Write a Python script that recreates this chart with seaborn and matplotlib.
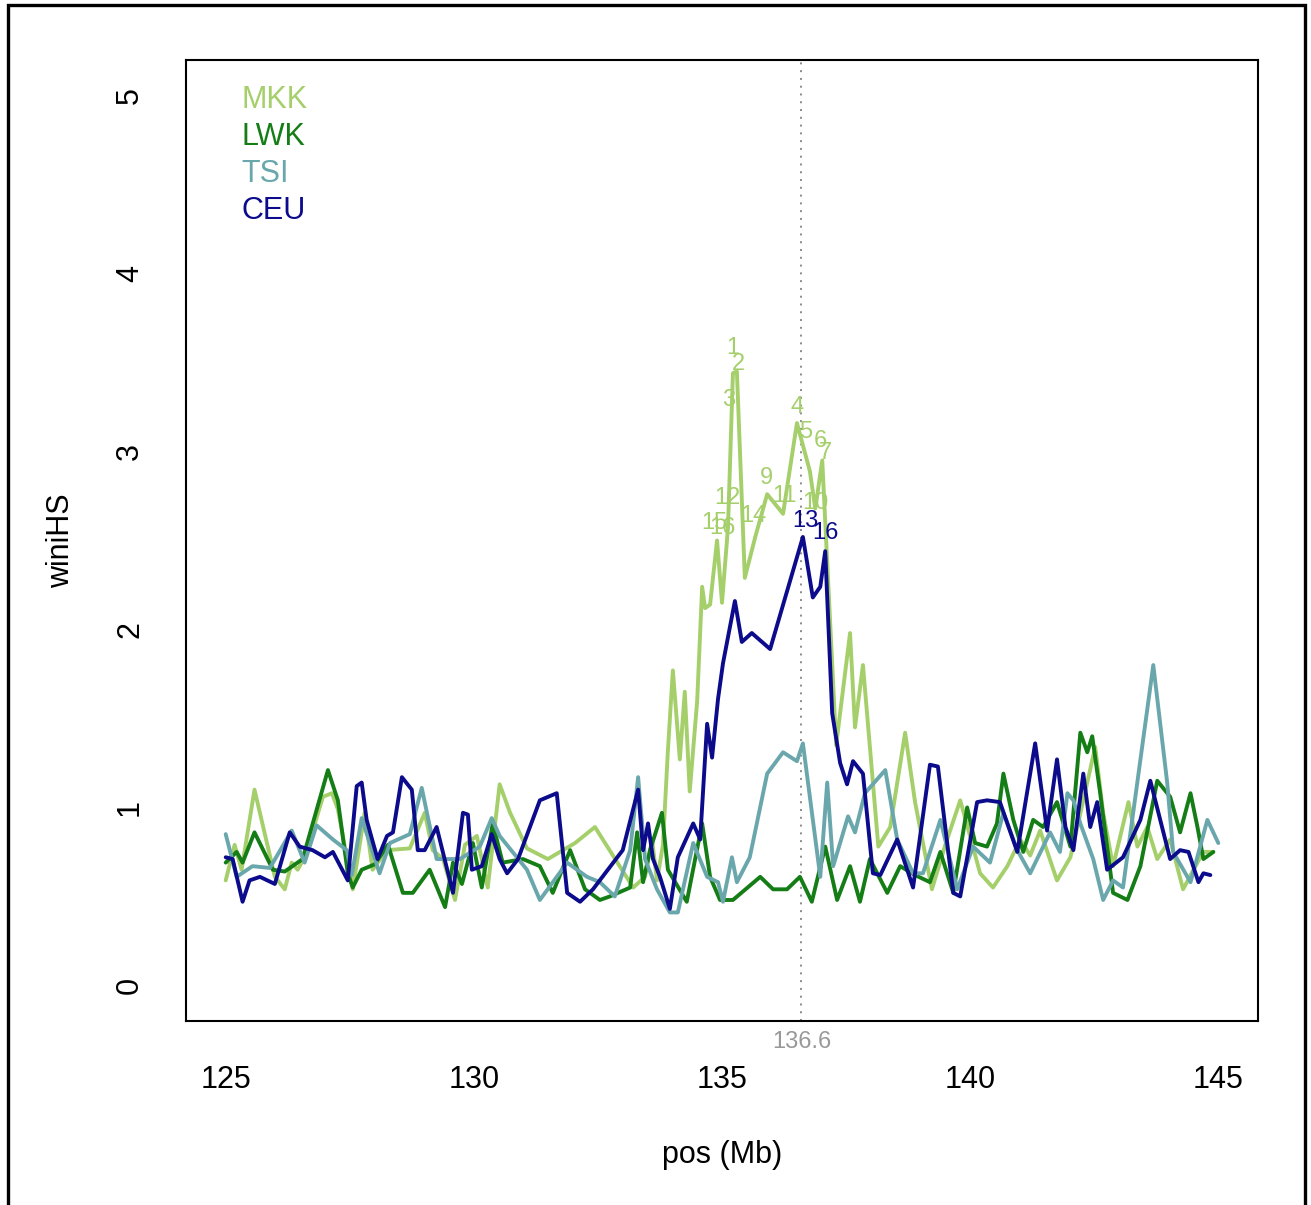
import numpy as np
import pandas as pd
import matplotlib
matplotlib.use("Agg")
import matplotlib.pyplot as plt
from matplotlib.patches import Rectangle
import seaborn as sns

# ── populations / colours ───────────────────────────────
pops = ["MKK", "LWK", "TSI", "CEU"]
pop_colors = {"MKK": "#a5cf6b", "LWK": "#157d15", "TSI": "#6aa7ac", "CEU": "#0b0b8c"}

# ── winiHS values per window (pos in Mb) ────────────────
mkk_pos = [125.00, 125.18, 125.32, 125.58, 125.99, 126.19, 126.33, 126.45, 126.59, 126.96,
           127.14, 127.26, 127.56, 127.80, 127.96, 128.25, 128.71, 129.01, 129.17, 129.38,
           129.62, 129.82, 130.06, 130.28, 130.52, 130.73, 131.07, 131.49, 132.04, 132.44,
           133.21, 133.45, 133.59, 133.69, 133.81, 133.91, 134.01, 134.15, 134.25, 134.35,
           134.50, 134.60, 134.66, 134.76, 134.90, 135.00, 135.12, 135.22, 135.30, 135.46,
           135.67, 135.91, 136.23, 136.51, 136.77, 136.88, 137.02, 137.30, 137.58, 137.68,
           137.84, 138.15, 138.39, 138.69, 138.89, 139.23, 139.50, 139.80, 139.94, 140.20,
           140.46, 140.75, 141.01, 141.21, 141.41, 141.75, 142.02, 142.28, 142.52, 142.68,
           142.88, 143.19, 143.37, 143.57, 143.77, 144.03, 144.29, 144.50, 144.70, 144.90]
mkk_hs = [0.59, 0.79, 0.65, 1.10, 0.61, 0.54, 0.69, 0.65, 0.72, 1.06,
          1.08, 0.99, 0.54, 0.97, 0.65, 0.76, 0.77, 0.97, 0.76, 0.71,
          0.48, 0.79, 0.84, 0.55, 1.13, 0.97, 0.77, 0.71, 0.80, 0.89,
          0.55, 0.61, 0.82, 0.59, 0.79, 1.32, 1.77, 1.27, 1.65, 1.09,
          1.60, 2.24, 2.12, 2.14, 2.50, 2.15, 2.57, 3.44, 3.45, 2.29,
          2.52, 2.76, 2.65, 3.16, 2.89, 2.68, 2.95, 1.35, 1.98, 1.45,
          1.80, 0.78, 0.89, 1.42, 1.03, 0.54, 0.79, 1.04, 0.90, 0.63,
          0.55, 0.67, 0.82, 0.73, 0.87, 0.59, 0.72, 1.04, 1.34, 0.97,
          0.67, 1.03, 0.78, 0.89, 0.71, 0.82, 0.54, 0.65, 0.75, 0.75]

lwk_pos = [125.00, 125.22, 125.34, 125.58, 125.95, 126.19, 126.55, 127.06, 127.26, 127.46,
           127.56, 127.74, 128.00, 128.27, 128.57, 128.77, 129.11, 129.42, 129.58, 129.76,
           129.98, 130.16, 130.38, 130.58, 130.99, 131.33, 131.59, 131.94, 132.24, 132.54,
           132.74, 133.15, 133.29, 133.41, 133.55, 133.79, 133.91, 134.29, 134.60, 134.76,
           134.96, 135.22, 135.77, 136.03, 136.31, 136.57, 136.81, 137.08, 137.32, 137.58,
           137.78, 137.98, 138.33, 138.59, 138.89, 139.19, 139.40, 139.66, 139.94, 140.10,
           140.34, 140.54, 140.67, 140.87, 141.07, 141.27, 141.47, 141.75, 142.02, 142.22,
           142.36, 142.46, 142.62, 142.82, 142.88, 143.17, 143.43, 143.77, 144.03, 144.23,
           144.44, 144.58, 144.70, 144.90]
lwk_hs = [0.69, 0.75, 0.69, 0.86, 0.65, 0.64, 0.71, 1.21, 1.04, 0.63,
          0.55, 0.65, 0.68, 0.79, 0.52, 0.52, 0.65, 0.44, 0.69, 0.57,
          0.80, 0.55, 0.91, 0.69, 0.71, 0.67, 0.52, 0.76, 0.54, 0.48,
          0.50, 0.55, 0.86, 0.58, 0.76, 0.97, 0.65, 0.47, 0.91, 0.61,
          0.48, 0.48, 0.61, 0.54, 0.54, 0.61, 0.47, 0.78, 0.48, 0.67,
          0.47, 0.71, 0.52, 0.67, 0.62, 0.58, 0.75, 0.52, 1.00, 0.80,
          0.78, 0.91, 1.19, 0.93, 0.75, 0.93, 0.89, 1.03, 0.78, 1.42,
          1.31, 1.40, 1.08, 0.65, 0.52, 0.48, 0.67, 1.15, 1.06, 0.86,
          1.08, 0.89, 0.71, 0.75]

tsi_pos = [125.00, 125.22, 125.54, 125.89, 126.33, 126.59, 126.83, 127.16, 127.44, 127.54,
           127.74, 128.10, 128.31, 128.71, 128.95, 129.25, 129.72, 130.12, 130.36, 130.52,
           131.07, 131.33, 131.67, 131.88, 132.28, 132.54, 132.84, 133.15, 133.31, 133.45,
           133.69, 133.95, 134.11, 134.42, 134.70, 134.92, 135.02, 135.20, 135.30, 135.56,
           135.91, 136.23, 136.51, 136.63, 136.98, 137.12, 137.24, 137.54, 137.68, 137.88,
           138.29, 138.53, 138.85, 139.05, 139.40, 139.74, 140.06, 140.40, 140.67, 140.95,
           141.21, 141.61, 141.81, 141.96, 142.08, 142.22, 142.48, 142.68, 142.88, 143.08,
           143.69, 143.97, 144.09, 144.44, 144.78, 145.00]
tsi_hs = [0.85, 0.61, 0.67, 0.66, 0.87, 0.69, 0.90, 0.82, 0.76, 0.62,
          0.94, 0.63, 0.80, 0.85, 1.11, 0.71, 0.71, 0.78, 0.94, 0.84,
          0.65, 0.48, 0.61, 0.69, 0.61, 0.58, 0.50, 0.76, 1.17, 0.71,
          0.54, 0.41, 0.41, 0.80, 0.61, 0.58, 0.47, 0.72, 0.58, 0.72,
          1.19, 1.31, 1.26, 1.36, 0.61, 1.14, 0.67, 0.95, 0.86, 1.08,
          1.21, 0.82, 0.63, 0.63, 0.93, 0.54, 0.78, 0.69, 0.97, 0.76,
          0.63, 0.86, 0.75, 1.08, 1.04, 0.91, 0.71, 0.48, 0.59, 0.55,
          1.80, 1.14, 0.75, 0.58, 0.93, 0.80]

ceu_pos = [125.00, 125.14, 125.34, 125.48, 125.69, 125.99, 126.29, 126.49, 126.75, 127.00,
           127.16, 127.46, 127.64, 127.74, 127.84, 128.06, 128.25, 128.37, 128.55, 128.75,
           128.87, 129.01, 129.25, 129.58, 129.78, 129.88, 129.96, 130.16, 130.36, 130.52,
           130.67, 130.89, 131.33, 131.67, 131.88, 132.14, 132.40, 133.00, 133.31, 133.41,
           133.51, 133.61, 133.75, 133.95, 134.11, 134.42, 134.56, 134.70, 134.80, 134.92,
           135.02, 135.26, 135.40, 135.60, 135.97, 136.63, 136.83, 136.98, 137.08, 137.22,
           137.38, 137.52, 137.64, 137.84, 138.04, 138.19, 138.53, 138.85, 139.19, 139.35,
           139.66, 139.80, 140.14, 140.34, 140.60, 140.95, 141.31, 141.55, 141.75, 141.92,
           142.08, 142.28, 142.42, 142.56, 142.76, 143.08, 143.43, 143.63, 144.03, 144.23,
           144.40, 144.60, 144.70, 144.84]
ceu_hs = [0.72, 0.71, 0.47, 0.59, 0.61, 0.57, 0.86, 0.78, 0.76, 0.72,
          0.75, 0.59, 1.12, 1.14, 0.93, 0.71, 0.84, 0.86, 1.17, 1.10,
          0.76, 0.76, 0.89, 0.52, 0.97, 0.96, 0.65, 0.67, 0.85, 0.71,
          0.63, 0.71, 1.04, 1.08, 0.52, 0.47, 0.54, 0.76, 1.10, 0.76,
          0.91, 0.71, 0.61, 0.43, 0.72, 0.91, 0.82, 1.47, 1.28, 1.61,
          1.81, 2.16, 1.93, 1.98, 1.89, 2.52, 2.18, 2.24, 2.44, 1.53,
          1.25, 1.13, 1.26, 1.19, 0.63, 0.62, 0.82, 0.55, 1.24, 1.23,
          0.52, 0.50, 1.03, 1.04, 1.03, 0.75, 1.36, 0.87, 1.27, 0.89,
          0.76, 1.19, 0.89, 1.03, 0.65, 0.72, 0.93, 1.15, 0.71, 0.76,
          0.75, 0.58, 0.63, 0.62]

# ── ranked top-window labels ────────────────────────────
rank_text = ["1", "2", "3", "4", "5", "6", "7", "9", "11", "10", "12", "14", "15", "16", "13", "16"]
rank_pop = ["MKK"] * 14 + ["CEU", "CEU"]
rank_x = [135.22, 135.34, 135.14, 136.51, 136.69, 136.98, 137.08, 135.89, 136.25, 136.88,
          135.10, 135.63, 134.84, 135.00, 136.67, 137.08]
rank_y = [3.58, 3.49, 3.29, 3.25, 3.11, 3.06, 2.99, 2.85, 2.75, 2.71,
          2.74, 2.64, 2.60, 2.57, 2.61, 2.54]

focus_pos = 136.6

df = pd.concat([
    pd.DataFrame({"pos": mkk_pos, "winiHS": mkk_hs, "pop": "MKK"}),
    pd.DataFrame({"pos": lwk_pos, "winiHS": lwk_hs, "pop": "LWK"}),
    pd.DataFrame({"pos": tsi_pos, "winiHS": tsi_hs, "pop": "TSI"}),
    pd.DataFrame({"pos": ceu_pos, "winiHS": ceu_hs, "pop": "CEU"}),
], ignore_index=True)

sns.set_theme(style="white")
plt.rcParams["font.family"] = ["Liberation Sans", "DejaVu Sans"]

fig = plt.figure(figsize=(13.11, 12.05), dpi=100)
ax = fig.add_axes([186 / 1311, 1 - 1021 / 1205, 1072 / 1311, 961 / 1205])

sns.lineplot(data=df, x="pos", y="winiHS", hue="pop", hue_order=pops,
             palette=pop_colors, estimator=None, sort=False,
             linewidth=2.8, legend=False, ax=ax)

ax.axvline(focus_pos, color="#8a8a8a", linestyle=(0, (1, 3)), linewidth=1.4, zorder=1)
ax.text(focus_pos, -0.32, "136.6", color="#999999", fontsize=17,
        ha="center", va="center", clip_on=False)

for t, p, x, y in zip(rank_text, rank_pop, rank_x, rank_y):
    ax.text(x, y, t, color=pop_colors[p], fontsize=17, ha="center", va="center")

# colour-coded legend text
for i, p in enumerate(pops):
    ax.text(0.052, 0.958 - i * 0.0385, p, color=pop_colors[p], fontsize=22,
            ha="left", va="center", transform=ax.transAxes)

ax.set_xlim(124.2, 145.8)
ax.set_ylim(-0.2, 5.2)
ax.set_xticks([125, 130, 135, 140, 145])
ax.set_yticks([0, 1, 2, 3, 4, 5])
ax.tick_params(axis="both", direction="out", length=11.5, width=1.4,
               color="black", labelsize=22, labelcolor="black")
ax.tick_params(axis="x", pad=20)
ax.tick_params(axis="y", pad=18, labelrotation=90)
for lbl in ax.get_yticklabels():
    lbl.set_va("center")

for s in ax.spines.values():
    s.set_visible(True)
    s.set_color("black")
    s.set_linewidth(1.5)

ax.set_xlabel("pos (Mb)", fontsize=22, color="black")
ax.set_ylabel("winiHS", fontsize=22, color="black")
ax.xaxis.set_label_coords(0.5, -0.139)
ax.xaxis.label.set_va("center")
ax.yaxis.set_label_coords(-0.117, 0.5)
ax.yaxis.label.set_va("center")

# outer frame around the whole figure
fig.patches.append(Rectangle((8 / 1311, -0.01), 1297 / 1311, 1.01 - 5 / 1205,
                             transform=fig.transFigure, fill=False,
                             edgecolor="black", linewidth=2.4))

fig.savefig("out.png", dpi=100)
